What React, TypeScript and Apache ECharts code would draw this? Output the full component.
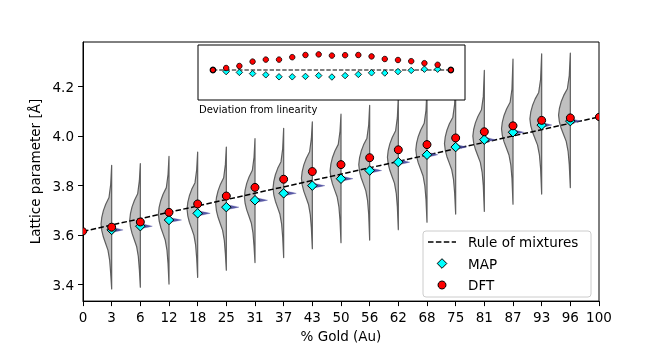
import React, { useEffect, useRef } from 'react';
import * as echarts from 'echarts';

// x categories (equally spaced positions 0..18)
const X_LABELS = ['0', '3', '6', '12', '18', '25', '31', '37', '43', '50', '56', '62', '68', '75', '81', '87', '93', '96', '100'];

// Rule of mixtures: straight line between pure Cu (index 0) and pure Au (index 18)
const RULE_X = [0, 18];
const RULE_Y = [3.615, 4.078];

// MAP estimates (cyan diamonds) and DFT values (red circles)
const MAP = [null, 3.621, 3.636, 3.661, 3.688, 3.713, 3.741, 3.769, 3.800, 3.828, 3.861, 3.895, 3.925, 3.956, 3.986, 4.016, 4.045, 4.061, null];
const DFT = [3.615, 3.632, 3.653, 3.692, 3.726, 3.758, 3.793, 3.826, 3.857, 3.885, 3.913, 3.945, 3.966, 3.993, 4.018, 4.042, 4.064, 4.074, 4.078];

// half-violins (posterior of lattice parameter) for indices 1..17
const VIOLIN_LO = [3.382, 3.389, 3.402, 3.429, 3.458, 3.489, 3.509, 3.545, 3.569, 3.580, 3.622, 3.652, 3.685, 3.696, 3.725, 3.766, 3.792];
const VIOLIN_HI = [3.882, 3.889, 3.918, 3.936, 3.956, 3.990, 4.032, 4.058, 4.089, 4.125, 4.160, 4.190, 4.220, 4.266, 4.312, 4.333, 4.336];
const VIOLIN_MODE = [3.645, 3.660, 3.685, 3.705, 3.725, 3.755, 3.790, 3.830, 3.860, 3.885, 3.915, 3.945, 3.970, 4.000, 4.030, 4.070, 4.085];
const VIOLIN_WIDTH = [0.37, 0.37, 0.37, 0.37, 0.37, 0.37, 0.37, 0.38, 0.38, 0.38, 0.38, 0.39, 0.39, 0.40, 0.40, 0.41, 0.41];
// shared violin outline: offset from mode (Å) and relative width
const PROFILE_DV = [0.16, 0.107, 0.08, 0.054, 0.027, 0, -0.027, -0.053, -0.08, -0.106, -0.146, -0.2];
const PROFILE_W = [0.09, 0.25, 0.56, 0.78, 0.93, 1, 0.93, 0.78, 0.56, 0.35, 0.19, 0.09];
// narrow blue spikes to the right of each MAP point
const SPIKE_LEN = [0.40, 0.42, 0.44, 0.44, 0.44, 0.44, 0.44, 0.44, 0.42, 0.42, 0.40, 0.38, 0.38, 0.38, 0.38, 0.36, 0.36];
const SPIKE_HALF = 0.01;

// inset: deviation from linearity (Å)
const DEV_DFT = [0, 0.005, 0.010, 0.021, 0.026, 0.026, 0.032, 0.0375, 0.039, 0.036, 0.037, 0.0375, 0.034, 0.0275, 0.025, 0.022, 0.017, 0.013, 0];
const DEV_MAP = [null, -0.004, -0.006, -0.009, -0.012, -0.017, -0.017, -0.016, -0.014, -0.0175, -0.014, -0.011, -0.007, -0.0075, -0.004, -0.001, 0.002, 0.002, null];

const Y_TICKS = [3.4, 3.6, 3.8, 4.0, 4.2];
const LEGEND_LABELS = ['Rule of mixtures', 'MAP', 'DFT'];

export default function App() {
  const ref = useRef<HTMLDivElement>(null);
  useEffect(() => {
    const chart = echarts.init(ref.current!, null, { renderer: 'svg' });
    const font = 'DejaVu Sans';
    const fs = 13.5;

    const violinData = VIOLIN_LO.map((lo, k) => [k + 1, lo, VIOLIN_HI[k], VIOLIN_MODE[k], VIOLIN_WIDTH[k]]);
    const spikeData = VIOLIN_LO.map((_, k) => [k + 1, MAP[k + 1] as number, SPIKE_LEN[k]]);
    const mapData = MAP.map((v, i) => (v == null ? null : [i, v])).filter((d) => d) as number[][];
    const dftInner = DFT.map((v, i) => [i, v]).filter((d) => d[0] > 0 && d[0] < X_LABELS.length - 1);
    const dftEnds = [[0, DFT[0]], [X_LABELS.length - 1, DFT[DFT.length - 1]]];
    const devMapData = DEV_MAP.map((v, i) => (v == null ? null : [i, v])).filter((d) => d) as number[][];
    const devDftInner = DEV_DFT.map((v, i) => [i, v]).filter((d) => d[0] > 0 && d[0] < X_LABELS.length - 1);
    const devDftEnds = [[0, DEV_DFT[0]], [X_LABELS.length - 1, DEV_DFT[DEV_DFT.length - 1]]];

    // legend layout (matplotlib-like box)
    const lgX = 423, lgY = 231, lgW = 168, lgH = 66;
    const rowY = [242, 263.5, 285];
    const handleCx = 442, textX = 468;

    const option: any = {
      animation: false,
      textStyle: { fontFamily: font },
      grid: [
        { left: 83, top: 42, width: 516, height: 262, show: true, borderColor: '#000', borderWidth: 1, backgroundColor: 'transparent' },
        { left: 198, top: 45, width: 267, height: 55, show: true, borderColor: '#000', borderWidth: 1, backgroundColor: '#fff', z: 10 },
      ],
      xAxis: [
        {
          type: 'value', gridIndex: 0, min: 0, max: 18, interval: 1,
          name: '% Gold (Au)', nameLocation: 'middle', nameGap: 26,
          nameTextStyle: { fontSize: fs, color: '#000', fontFamily: font },
          axisLine: { lineStyle: { color: '#000', width: 1 } },
          axisTick: { show: true, length: 5, lineStyle: { color: '#000', width: 1 } },
          axisLabel: { fontSize: fs, color: '#000', margin: 9, fontFamily: font, formatter: (v: number) => X_LABELS[Math.round(v)] ?? '' },
          splitLine: { show: false },
        },
        { type: 'value', gridIndex: 1, min: -1.13, max: 19.07, show: false },
      ],
      yAxis: [
        {
          type: 'value', gridIndex: 0, min: 3.333, max: 4.381,
          name: 'Lattice parameter [Å]', nameLocation: 'middle', nameGap: 38,
          nameTextStyle: { fontSize: fs, color: '#000', fontFamily: font },
          axisLine: { show: true, lineStyle: { color: '#000', width: 1 } },
          axisTick: { show: true, length: 5, customValues: Y_TICKS, lineStyle: { color: '#000', width: 1 } },
          axisLabel: { fontSize: fs, color: '#000', margin: 9, fontFamily: font, customValues: Y_TICKS, formatter: (v: number) => v.toFixed(1) },
          splitLine: { show: false },
        },
        { type: 'value', gridIndex: 1, min: -0.075, max: 0.0625, show: false },
      ],
      graphic: [
        { type: 'text', left: 199, top: 104, z: 30, style: { text: 'Deviation from linearity', fontSize: 10, fontFamily: font, fill: '#000' } },
        {
          type: 'group', z: 40,
          children: [
            { type: 'rect', shape: { x: lgX, y: lgY, width: lgW, height: lgH, r: 3 }, style: { fill: 'rgba(255,255,255,0.8)', stroke: '#cccccc', lineWidth: 1 }, z: 40 },
            { type: 'line', shape: { x1: 428, y1: rowY[0], x2: 456, y2: rowY[0] }, style: { stroke: '#000', lineWidth: 1.5, lineDash: [5.5, 2.4] }, z: 41 },
            { type: 'polygon', shape: { points: [[handleCx, rowY[1] - 4.8], [handleCx + 4.8, rowY[1]], [handleCx, rowY[1] + 4.8], [handleCx - 4.8, rowY[1]]] }, style: { fill: '#00ffff', stroke: '#000', lineWidth: 1 }, z: 41 },
            { type: 'circle', shape: { cx: handleCx, cy: rowY[2], r: 4 }, style: { fill: '#ff0000', stroke: '#000', lineWidth: 1 }, z: 41 },
            ...LEGEND_LABELS.map((t, i) => ({
              type: 'text', x: textX, y: rowY[i], z: 41,
              style: { text: t, fontSize: fs, fontFamily: font, fill: '#000', verticalAlign: 'middle', align: 'left' },
            })),
          ],
        },
      ],
      series: [
        {
          type: 'custom', name: 'violins', xAxisIndex: 0, yAxisIndex: 0, z: 2,
          data: violinData,
          renderItem: (params: any, api: any) => {
            const x = api.value(0), lo = api.value(1), hi = api.value(2), mode = api.value(3), w = api.value(4);
            const pts: number[][] = [api.coord([x, hi])];
            for (let k = 0; k < PROFILE_DV.length; k++) {
              const v = mode + PROFILE_DV[k];
              if (v < hi && v > lo) pts.push(api.coord([x - w * PROFILE_W[k], v]));
            }
            pts.push(api.coord([x, lo]));
            return { type: 'polygon', shape: { points: pts }, style: { fill: '#c0c0c0', stroke: '#5e5e5e', lineWidth: 1.2, lineJoin: 'round' } };
          },
        },
        {
          type: 'custom', name: 'spikes', xAxisIndex: 0, yAxisIndex: 0, z: 4,
          data: spikeData,
          renderItem: (params: any, api: any) => {
            const x = api.value(0), m = api.value(1), L = api.value(2);
            const h = SPIKE_HALF;
            const pts = [
              api.coord([x, m + h]), api.coord([x + 0.3 * L, m + 0.75 * h]), api.coord([x + 0.65 * L, m + 0.4 * h]),
              api.coord([x + L, m]),
              api.coord([x + 0.65 * L, m - 0.4 * h]), api.coord([x + 0.3 * L, m - 0.75 * h]), api.coord([x, m - h]),
            ];
            return { type: 'polygon', shape: { points: pts }, style: { fill: 'rgba(70,70,155,0.9)', stroke: 'rgba(70,70,155,0.5)', lineWidth: 0.5 } };
          },
        },
        {
          type: 'line', name: 'Rule of mixtures', xAxisIndex: 0, yAxisIndex: 0, z: 3,
          data: RULE_X.map((x, i) => [x, RULE_Y[i]]),
          symbol: 'none', showSymbol: false,
          lineStyle: { color: '#000', width: 1.5, type: [5.5, 2.4] },
          itemStyle: { color: '#000' },
        },
        {
          type: 'scatter', name: 'MAP', xAxisIndex: 0, yAxisIndex: 0, z: 5,
          data: mapData, symbol: 'diamond', symbolSize: 9.5,
          itemStyle: { color: '#00ffff', borderColor: '#000', borderWidth: 1, opacity: 1 },
        },
        {
          type: 'scatter', name: 'DFT', xAxisIndex: 0, yAxisIndex: 0, z: 6,
          data: dftInner, symbol: 'circle', symbolSize: 8,
          itemStyle: { color: '#ff0000', borderColor: '#000', borderWidth: 1, opacity: 1 },
        },
        {
          type: 'custom', name: 'dftEnds', xAxisIndex: 0, yAxisIndex: 0, z: 6, clip: true,
          data: dftEnds,
          renderItem: (params: any, api: any) => {
            const p = api.coord([api.value(0), api.value(1)]);
            return { type: 'circle', shape: { cx: p[0], cy: p[1], r: 3.6 }, style: { fill: '#ff0000', stroke: '#000', lineWidth: 1 } };
          },
        },
        // inset
        {
          type: 'line', name: 'devLine', xAxisIndex: 1, yAxisIndex: 1, z: 11,
          data: [[0, 0], [X_LABELS.length - 1, 0]], symbol: 'none',
          lineStyle: { color: '#000', width: 1.2, type: [4.4, 1.9] },
        },
        {
          type: 'scatter', name: 'devMAP', xAxisIndex: 1, yAxisIndex: 1, z: 12,
          data: devMapData, symbol: 'diamond', symbolSize: 6.5,
          itemStyle: { color: '#00ffff', borderColor: '#000', borderWidth: 0.8, opacity: 1 },
        },
        {
          type: 'scatter', name: 'devDFT', xAxisIndex: 1, yAxisIndex: 1, z: 13,
          data: devDftInner, symbol: 'circle', symbolSize: 5.5,
          itemStyle: { color: '#ff0000', borderColor: '#000', borderWidth: 0.8, opacity: 1 },
        },
        {
          type: 'scatter', name: 'devEnds', xAxisIndex: 1, yAxisIndex: 1, z: 13,
          data: devDftEnds, symbol: 'circle', symbolSize: 5.5,
          itemStyle: { color: '#ff0000', borderColor: '#000', borderWidth: 1.2, opacity: 1 },
        },
      ],
    };
    chart.setOption(option);
    return () => chart.dispose();
  }, []);
  return <div ref={ref} style={{ position: 'fixed', left: 0, top: 0, width: 664, height: 348 }} />;
}
